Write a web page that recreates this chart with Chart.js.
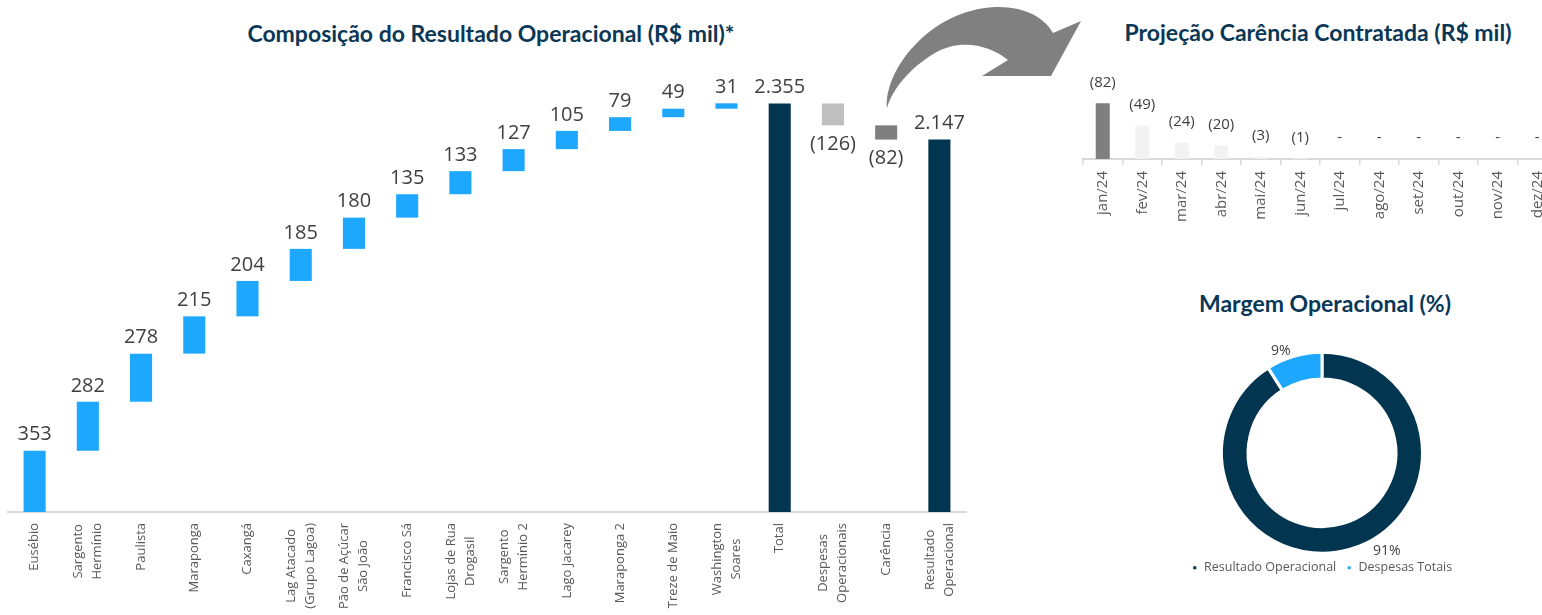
<!DOCTYPE html>
<html lang="pt-BR">
<head>
<meta charset="utf-8">
<title>Resultado Operacional</title>
<script src="https://cdn.jsdelivr.net/npm/chart.js@4.4.1/dist/chart.umd.min.js"></script>
<style>
  html, body { margin: 0; padding: 0; width: 1542px; height: 615px; overflow: hidden; background: #fff; }
  .titulo {
    position: absolute; transform: translate(-50%, -50%); white-space: nowrap;
    font-family: Lato, "Open Sans", sans-serif; font-weight: 700; font-size: 23px; color: #0a3756;
  }
  .caixa { position: absolute; }
  #seta { position: absolute; left: 0; top: 0; pointer-events: none; }
</style>
</head>
<body>
<div class="titulo" style="left:491px;top:33px">Composição do Resultado Operacional (R$ mil)*</div>
<div class="titulo" style="left:1318px;top:32px">Projeção Carência Contratada (R$ mil)</div>
<div class="titulo" style="left:1325px;top:303px">Margem Operacional (%)</div>

<div class="caixa" style="left:0;top:0;width:975px;height:615px"><canvas id="cascata"></canvas></div>
<div class="caixa" style="left:1075px;top:60px;width:490px;height:200px"><canvas id="carencia"></canvas></div>
<div class="caixa" style="left:1172px;top:314px;width:300px;height:270px"><canvas id="margem"></canvas></div>

<!-- seta decorativa ligando a carência ao gráfico da direita -->
<svg id="seta" width="1542" height="615">
  <path d="M887,108 C884,70 930,10 995,7 C1025,6 1045,18 1053,33 L1081,21 L1051,76 L982,76 L1008,60
           C990,45 960,38 935,53 C910,68 893,88 887,108 Z" fill="#808080"/>
</svg>

<script>
// Dados - composição do resultado (R$ mil)
const categorias = [
  'Eusébio', ['Sargento', 'Hermínio'], 'Paulista', 'Maraponga', 'Caxangá',
  ['Lag Atacado', '(Grupo Lagoa)'], ['Pão de Açúcar', 'São João'], 'Francisco Sá',
  ['Lojas de Rua', 'Drogasil'], ['Sargento', 'Hermínio 2'], 'Lago Jacarey', 'Maraponga 2',
  'Treze de Maio', ['Washington', 'Soares'], 'Total', ['Despesas', 'Operacionais'],
  'Carência', ['Resultado', 'Operacional']
];
const valores = [353, 282, 278, 215, 204, 185, 180, 135, 133, 127, 105, 79, 49, 31, 2355, -126, -82, 2147];
const tipos = ['loja', 'loja', 'loja', 'loja', 'loja', 'loja', 'loja', 'loja', 'loja', 'loja',
  'loja', 'loja', 'loja', 'loja', 'total', 'despesa', 'carencia', 'total'];

// Dados - projeção da carência contratada (R$ mil)
const meses = ['jan/24', 'fev/24', 'mar/24', 'abr/24', 'mai/24', 'jun/24',
  'jul/24', 'ago/24', 'set/24', 'out/24', 'nov/24', 'dez/24'];
const carencia = [-82, -49, -24, -20, -3, -1, 0, 0, 0, 0, 0, 0];

// Dados - margem operacional (%)
const margemRotulos = ['Resultado Operacional', 'Despesas Totais'];
const margemValores = [91, 9];

((Chart) => {

  const cores = {
    loja: '#1ea7ff',
    total: '#02354f',
    despesa: '#bfbfbf',
    carencia: '#7f7f7f',
    claro: '#f2f2f2',
    eixo: '#d9d9d9',
    texto: '#404040',
    rotulo: '#595959'
  };
  const fonte = '"Open Sans", sans-serif';

  // 2355 -> "2.355", -126 -> "(126)", 0 -> "-"
  const formatar = (v) => {
    if (v === 0) return '-';
    const s = String(Math.abs(v)).replace(/\B(?=(\d{3})+(?!\d))/g, '.');
    return v < 0 ? `(${s})` : s;
  };

  // barras flutuantes da cascata: total reinicia o acumulado
  const montarCascata = (vals, tps) => {
    let acumulado = 0;
    return vals.map((v, i) => {
      if (tps[i] === 'total') {
        acumulado = v;
        return [0, v];
      }
      const inicio = acumulado;
      acumulado += v;
      return [inicio, acumulado];
    });
  };

  // sem margem extra para os rótulos das pontas
  const semMargem = (scale, altura) => {
    scale.height = altura;
    scale.paddingLeft = 0;
    scale.paddingRight = 0;
  };

  const rotulosBarras = {
    id: 'rotulosBarras',
    afterDatasetsDraw(chart, args, opts) {
      const {ctx} = chart;
      const meta = chart.getDatasetMeta(0);
      ctx.save();
      ctx.font = opts.font;
      ctx.fillStyle = cores.texto;
      ctx.textAlign = 'center';
      ctx.textBaseline = 'middle';
      meta.data.forEach((barra, i) => {
        const v = opts.valores[i];
        const topo = Math.min(barra.y, barra.base);
        const fundo = Math.max(barra.y, barra.base);
        const y = (v < 0 && !opts.sempreAcima) ? fundo + opts.abaixo : topo - opts.distancia;
        ctx.fillText(formatar(v), barra.x, y);
      });
      ctx.restore();
    }
  };

  // rótulos do eixo x na vertical, linhas centradas entre si (como no Excel)
  const rotulosEixo = {
    id: 'rotulosEixo',
    afterDraw(chart, args, opts) {
      const {ctx} = chart;
      const eixo = chart.scales.x;
      const topo = eixo.top + opts.padding;
      ctx.save();
      ctx.font = opts.font;
      ctx.fillStyle = cores.rotulo;
      ctx.textAlign = 'center';
      ctx.textBaseline = 'middle';
      chart.data.labels.forEach((rotulo, i) => {
        const linhas = [].concat(rotulo);
        const largura = Math.max(...linhas.map(l => ctx.measureText(l).width));
        const x0 = eixo.getPixelForTick(i);
        linhas.forEach((linha, j) => {
          ctx.save();
          ctx.translate(x0 + (j - (linhas.length - 1) / 2) * opts.entrelinha, topo + largura / 2);
          ctx.rotate(-Math.PI / 2);
          ctx.fillText(linha, 0, 0);
          ctx.restore();
        });
      });
      ctx.restore();
    }
  };

  const rotulosRosca = {
    id: 'rotulosRosca',
    afterDatasetsDraw(chart, args, opts) {
      const {ctx} = chart;
      const meta = chart.getDatasetMeta(0);
      ctx.save();
      ctx.font = `14px ${fonte}`;
      ctx.fillStyle = cores.texto;
      ctx.textAlign = 'center';
      ctx.textBaseline = 'middle';
      meta.data.forEach((arco, i) => {
        const ang = (opts.angulos[i] - 90) * Math.PI / 180;
        const r = opts.raios[i];
        ctx.fillText(`${margemValores[i]}%`, arco.x + Math.cos(ang) * r, arco.y + Math.sin(ang) * r);
      });
      ctx.restore();
    }
  };

  const app = {
    graficos: {},
    initialize() {
      app.methods.cascata();
      app.methods.carencia();
      app.methods.margem();
    },
    methods: {
      cascata() {
        const ctx = document.getElementById('cascata').getContext('2d');
        app.graficos.cascata = new Chart(ctx, {
          type: 'bar',
          data: {
            labels: categorias,
            datasets: [{
              data: montarCascata(valores, tipos),
              backgroundColor: tipos.map(t => cores[t]),
              borderSkipped: false,
              categoryPercentage: 1,
              barPercentage: 0.415
            }]
          },
          options: {
            responsive: true,
            maintainAspectRatio: false,
            animation: false,
            layout: { padding: { top: 61, left: 8, right: 9, bottom: 0 } },
            plugins: {
              legend: { display: false },
              tooltip: { enabled: false },
              rotulosBarras: { valores, font: `20px ${fonte}`, distancia: 16, abaixo: 19 },
              rotulosEixo: { font: `13px ${fonte}`, padding: 11, entrelinha: 19 }
            },
            scales: {
              x: {
                grid: { display: false },
                border: { display: true, color: cores.eixo, width: 2 },
                ticks: { display: false },
                afterFit(scale) { semMargem(scale, 103); }
              },
              y: { display: false, min: 0, max: 2600 }
            }
          },
          plugins: [rotulosBarras, rotulosEixo]
        });
      },
      carencia() {
        const ctx = document.getElementById('carencia').getContext('2d');
        app.graficos.carencia = new Chart(ctx, {
          type: 'bar',
          data: {
            labels: meses,
            datasets: [{
              data: carencia.map(v => Math.abs(v)),
              backgroundColor: carencia.map((v, i) => i === 0 ? cores.carencia : cores.claro),
              categoryPercentage: 1,
              barPercentage: 0.355
            }]
          },
          options: {
            responsive: true,
            maintainAspectRatio: false,
            animation: false,
            layout: { padding: { top: 31, left: 8, right: 8, bottom: 0 } },
            plugins: {
              legend: { display: false },
              tooltip: { enabled: false },
              rotulosBarras: { valores: carencia, font: `15px ${fonte}`, distancia: 21, sempreAcima: true }
            },
            scales: {
              x: {
                grid: { display: true, drawOnChartArea: false, tickLength: 6, color: cores.eixo, lineWidth: 1.5 },
                border: { display: true, color: cores.eixo, width: 2 },
                ticks: {
                  autoSkip: false, maxRotation: 90, minRotation: 90, padding: 6,
                  color: cores.rotulo, font: { family: fonte, size: 15 }
                },
                afterFit(scale) { semMargem(scale, 101); }
              },
              y: { display: false, min: 0, max: 100 }
            }
          },
          plugins: [rotulosBarras]
        });
      },
      margem() {
        const ctx = document.getElementById('margem').getContext('2d');
        app.graficos.margem = new Chart(ctx, {
          type: 'doughnut',
          data: {
            labels: margemRotulos,
            datasets: [{
              data: margemValores,
              backgroundColor: [cores.total, cores.loja],
              borderColor: '#ffffff',
              borderWidth: 3,
              hoverOffset: 0
            }]
          },
          options: {
            responsive: true,
            maintainAspectRatio: false,
            animation: false,
            radius: 100.5,
            cutout: '73.5%',
            layout: { padding: { top: 40 } },
            plugins: {
              tooltip: { enabled: false },
              legend: {
                position: 'bottom',
                labels: {
                  usePointStyle: true, pointStyle: 'rect', boxWidth: 6, boxHeight: 6, padding: 10,
                  color: cores.rotulo, font: { family: fonte, size: 12.5 }
                }
              },
              rotulosRosca: { angulos: [146.7, 338], raios: [118, 110] }
            }
          },
          plugins: [rotulosRosca]
        });
      }
    }
  };

  app.initialize();
})(window.Chart);
</script>
</body>
</html>
